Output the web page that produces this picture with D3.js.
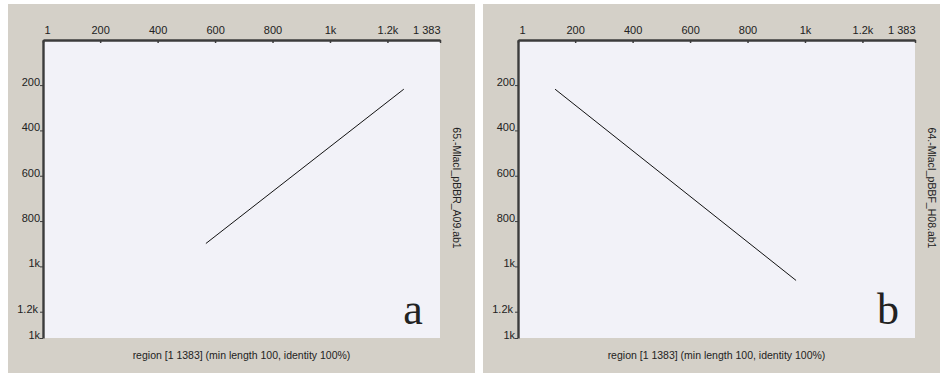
<!DOCTYPE html>
<html>
<head>
<meta charset="utf-8">
<script src="https://cdn.jsdelivr.net/npm/d3@7"></script>
<style>
  body { margin: 0; background: #ffffff; }
  text { font-family: "Liberation Sans", Arial, sans-serif; fill: #222; }
  .axis path, .axis line { stroke: #3c3c3c; }
</style>
</head>
<body>
<div id="chart"></div>
<script>
// data
var panelLetters = ["a", "b"];
var sequenceNames = ["65.-MlacI_pBBR_A09.ab1", "64.-MlacI_pBBF_H08.ab1"];
var regionLabel = "region [1 1383] (min length 100, identity 100%)";

var xTickValues = [1, 200, 400, 600, 800, 1000, 1200, 1383];
var xTickLabels = ["1", "200", "400", "600", "800", "1k", "1.2k", "1 383"];
var yTickValues = [200, 400, 600, 800, 1000, 1200, 1316];
var yTickLabels = ["200", "400", "600", "800", "1k", "1.2k", "1k"];

// match segments [reference pos, query pos]
var segmentA = [[568, 899], [1257, 218]];
var segmentB = [[130, 218], [969, 1062]];
var segments = [segmentA, segmentB];

// layout
var svgWidth = 940, svgHeight = 373;
var panelLeft = [8, 483];
var panelWidth = 467;
var panelTop = 4;
var margin = { left: 35, top: 36 };
var plotWidth = 397, plotHeight = 298;

var svg = d3.select("#chart").append("svg")
  .attr("width", svgWidth)
  .attr("height", svgHeight);

var xScale = d3.scaleLinear().domain([1, 1383]).range([0, plotWidth]);
var yScale = d3.scaleLinear().domain([1, 1316]).range([0, plotHeight]);

panelLetters.forEach(function(letter, i) {
  var panel = svg.append("g")
    .attr("transform", `translate(${panelLeft[i]}, ${panelTop})`);

  panel.append("rect")
    .attr("width", panelWidth)
    .attr("height", svgHeight - panelTop)
    .attr("fill", "#d4d0c8");

  var chartGroup = panel.append("g")
    .attr("transform", `translate(${margin.left}, ${margin.top})`);

  chartGroup.append("rect")
    .attr("width", plotWidth)
    .attr("height", plotHeight)
    .attr("fill", "#f2f2f8");

  // dot plot segment
  var line = d3.line()
    .x(function(d) { return xScale(d[0]); })
    .y(function(d) { return yScale(d[1]); });

  chartGroup.append("path")
    .datum(segments[i])
    .attr("d", line)
    .attr("fill", "none")
    .attr("stroke", "#111")
    .attr("stroke-width", 1);

  // top axis
  var topAxis = d3.axisTop(xScale)
    .tickValues(xTickValues)
    .tickFormat(function(d, j) { return xTickLabels[j]; })
    .tickSize(-3)
    .tickSizeOuter(0)
    .tickPadding(6);

  var xg = chartGroup.append("g")
    .attr("class", "axis")
    .call(topAxis);
  xg.select(".domain").attr("stroke-width", 2.4);
  xg.selectAll(".tick line").attr("stroke-width", 1.5);
  xg.selectAll("text")
    .style("font-size", "11px")
    .attr("fill", "#222")
    .attr("text-anchor", function(d, j) {
      if (j === 0) return "start";
      if (j === xTickValues.length - 1) return "end";
      return "middle";
    })
    .attr("x", function(d, j) { return j === 0 ? 1 : 0; });

  // left axis
  var leftAxis = d3.axisLeft(yScale)
    .tickValues(yTickValues)
    .tickFormat(function(d, j) { return yTickLabels[j]; })
    .tickSize(3)
    .tickSizeOuter(0)
    .tickPadding(0);

  var yg = chartGroup.append("g")
    .attr("class", "axis")
    .call(leftAxis);
  yg.select(".domain").attr("stroke-width", 2.4);
  yg.selectAll("text")
    .style("font-size", "11px")
    .attr("fill", "#222")
    .attr("dy", "0.05em")
    .attr("x", function(d, j) { return yTickLabels[j] === "1.2k" ? -5 : -3; });

  // sequence name on the right
  chartGroup.append("text")
    .attr("transform", `translate(${plotWidth + 17}, ${plotHeight / 2 - 1}) rotate(90)`)
    .attr("text-anchor", "middle")
    .attr("dominant-baseline", "central")
    .style("font-size", "10.5px")
    .text(sequenceNames[i]);

  // region label at bottom
  chartGroup.append("text")
    .attr("x", plotWidth / 2)
    .attr("y", plotHeight + 21)
    .attr("text-anchor", "middle")
    .style("font-size", "10.5px")
    .text(regionLabel);

  // panel letter
  chartGroup.append("text")
    .attr("x", plotWidth - 27)
    .attr("y", plotHeight - 14)
    .attr("text-anchor", "middle")
    .style("font-family", "'Liberation Serif', 'DejaVu Serif', serif")
    .style("font-size", "44px")
    .attr("fill", "#1a1a1a")
    .text(letter);
});
</script>
</body>
</html>
